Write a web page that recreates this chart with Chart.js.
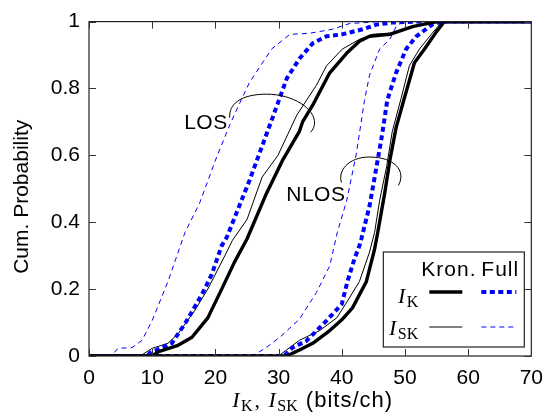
<!DOCTYPE html>
<html>
<head>
<meta charset="utf-8">
<script src="https://cdn.jsdelivr.net/npm/chart.js@4.4.1/dist/chart.umd.min.js"></script>
<style>
  html, body { margin: 0; padding: 0; background: #fff; }
  #wrap { width: 553px; height: 415px; }
</style>
</head>
<body>
<div id="wrap"><canvas id="cdf" width="553" height="415"></canvas></div>
<script>
// Empirical CDFs of mutual information, points as [bits/ch, probability]
const losKronIK = [[0,0],[10,0],[10.9,0.012],[14.1,0.032],[16.3,0.056],[18.8,0.114],[21,0.2],[23,0.28],[25,0.35],[28.1,0.487],[30.6,0.584],[33.3,0.672],[33.8,0.7],[35.4,0.75],[38.1,0.847],[40.8,0.906],[42.8,0.941],[44.4,0.956],[47.6,0.962],[51.2,0.985],[55,1],[70,1]];
const losKronISK = [[0,0],[8.1,0],[10,0.023],[12.5,0.038],[14.1,0.067],[16.7,0.135],[18.8,0.2],[21.5,0.3],[22.7,0.346],[25,0.408],[27.4,0.535],[29.9,0.6],[32.9,0.721],[36,0.81],[37.6,0.868],[40.1,0.918],[42.8,0.947],[44.9,0.962],[47.6,0.965],[51.2,0.985],[55,1],[70,1]];
const losFullIK = [[0,0],[9.3,0],[9.6,0.009],[13.1,0.038],[15.2,0.097],[17.9,0.185],[19.4,0.243],[21,0.33],[21.8,0.355],[25.4,0.525],[27.5,0.633],[29,0.71],[31.3,0.83],[33.3,0.889],[35.4,0.935],[37.6,0.956],[40.1,0.962],[43.3,0.977],[45.5,0.991],[48,0.997],[52,1],[70,1]];
const losFullISK = [[0,0],[3.5,0],[4.6,0.023],[6.8,0.025],[8.4,0.047],[10,0.106],[12.5,0.223],[15.2,0.37],[17.5,0.457],[20.2,0.595],[22.3,0.692],[23.5,0.742],[25.4,0.818],[28.9,0.918],[31.8,0.962],[34.9,0.965],[38.5,0.977],[41.2,0.994],[46,1],[70,1]];

const nlosKronIK = [[0,0],[31.3,0],[33.3,0.018],[35.4,0.038],[38.1,0.076],[40.1,0.11],[41.7,0.144],[43.9,0.223],[45.2,0.32],[45.7,0.37],[46.8,0.487],[47.6,0.584],[48.6,0.683],[49.9,0.771],[51.5,0.877],[53.1,0.918],[55,0.97],[56.2,1],[70,1]];
const nlosKronISK = [[0,0],[29.5,0],[30.2,0.003],[33.3,0.047],[36.5,0.076],[39.2,0.114],[40.9,0.164],[42.8,0.223],[44.4,0.311],[45.2,0.37],[46,0.466],[47.1,0.566],[48,0.672],[49.4,0.771],[50.7,0.868],[52.3,0.918],[54.3,0.965],[55.9,1],[70,1]];
const nlosFullIK = [[0,0],[30.5,0],[31,0.003],[32.2,0.025],[34.4,0.045],[37.6,0.106],[40,0.155],[40.9,0.223],[42,0.29],[42.8,0.33],[43.1,0.35],[44.4,0.449],[45.5,0.566],[46.4,0.663],[47.2,0.765],[48.6,0.847],[50.2,0.918],[51.8,0.956],[54.3,0.991],[55.9,1],[70,1]];
const nlosFullISK = [[0,0],[25.9,0],[28.1,0.026],[30.2,0.056],[33.3,0.11],[36,0.19],[38.1,0.27],[39.3,0.37],[40.8,0.466],[42.3,0.604],[43.6,0.765],[44.4,0.84],[46,0.918],[47.6,0.947],[48.6,0.985],[49.6,1],[70,1]];

// bracket labels: text anchor, then bezier path (start, c1, c2, mid, c1, c2, end), data units
const losLabel = {text: 'LOS', at: [18.5, 0.689],
  path: [[22.27,0.713],[22.12,0.751],[23.85,0.783],[28.1,0.783],[33.33,0.783],[37.28,0.716],[35.07,0.669]]};
const nlosLabel = {text: 'NLOS', at: [35.9, 0.475],
  path: [[39.97,0.519],[39.34,0.551],[40.92,0.595],[44.39,0.595],[48.34,0.595],[50.24,0.554],[48.97,0.51]]};

const SANS = '"Liberation Sans", Arial, sans-serif';
const SERIF = '"Liberation Serif", "DejaVu Serif", serif';

const styles = {
  kronIK:  {color: '#000', width: 3.4, dash: []},
  kronISK: {color: '#000', width: 1, dash: []},
  fullIK:  {color: '#0000ff', width: 4, dash: [5, 3.5]},
  fullISK: {color: '#0000ff', width: 1, dash: [5, 4]}
};

function curve(pts, st) {
  return {
    data: pts.map(p => ({x: p[0], y: p[1]})),
    borderColor: st.color,
    borderWidth: st.width,
    borderDash: st.dash,
    borderCapStyle: 'butt',
    borderJoinStyle: 'round',
    pointRadius: 0,
    tension: 0,
    fill: false
  };
}

// draws I with an upright subscript, returns the width
function mathI(ctx, sub, x, base, align) {
  ctx.font = 'italic 22px ' + SERIF;
  const wI = ctx.measureText('I').width;
  ctx.font = '16px ' + SERIF;
  const wS = ctx.measureText(sub).width;
  const total = wI + 1.5 + wS;
  const x0 = align === 'right' ? x - total : x;
  ctx.textAlign = 'left';
  ctx.textBaseline = 'alphabetic';
  ctx.font = 'italic 22px ' + SERIF;
  ctx.fillText('I', x0, base);
  ctx.font = '16px ' + SERIF;
  ctx.fillText(sub, x0 + wI + 1.5, base + 4);
  return total;
}

const decor = {
  id: 'decor',
  afterDatasetsDraw(chart) {
    const {ctx, chartArea: a, scales: {x, y}} = chart;
    ctx.save();

    // frame and inward ticks on all four sides
    ctx.strokeStyle = '#222';
    ctx.lineWidth = 1.2;
    ctx.strokeRect(a.left, a.top, a.right - a.left, a.bottom - a.top);
    ctx.lineWidth = 1;
    ctx.strokeStyle = '#333';
    const tl = 7;
    ctx.beginPath();
    x.ticks.forEach(t => {
      const px = Math.round(x.getPixelForValue(t.value)) + 0.5;
      ctx.moveTo(px, a.bottom); ctx.lineTo(px, a.bottom - tl);
      ctx.moveTo(px, a.top); ctx.lineTo(px, a.top + tl);
    });
    y.ticks.forEach(t => {
      const py = Math.round(y.getPixelForValue(t.value)) + 0.5;
      ctx.moveTo(a.left, py); ctx.lineTo(a.left + tl, py);
      ctx.moveTo(a.right, py); ctx.lineTo(a.right - tl, py);
    });
    ctx.stroke();

    // LOS / NLOS brackets
    const P = p => [x.getPixelForValue(p[0]), y.getPixelForValue(p[1])];
    [losLabel, nlosLabel].forEach(lb => {
      const q = lb.path.map(P);
      ctx.strokeStyle = '#000';
      ctx.lineWidth = 1;
      ctx.beginPath();
      ctx.moveTo(q[0][0], q[0][1]);
      ctx.bezierCurveTo(q[1][0], q[1][1], q[2][0], q[2][1], q[3][0], q[3][1]);
      ctx.bezierCurveTo(q[4][0], q[4][1], q[5][0], q[5][1], q[6][0], q[6][1]);
      ctx.stroke();
      const c = P(lb.at);
      ctx.fillStyle = '#000';
      ctx.font = '21px ' + SANS;
      ctx.letterSpacing = '0.5px';
      ctx.textAlign = 'center';
      ctx.textBaseline = 'middle';
      ctx.fillText(lb.text, c[0], c[1] - 2);
      ctx.letterSpacing = '0px';
    });

    // legend table
    const L = a.right - 148, T = a.bottom - 104;
    ctx.fillStyle = '#fff';
    ctx.fillRect(L, T, 141, 95);
    ctx.strokeStyle = '#222';
    ctx.lineWidth = 1.2;
    ctx.strokeRect(L, T, 141, 95);
    ctx.fillStyle = '#000';
    ctx.font = '21px ' + SANS;
    ctx.letterSpacing = '1px';
    ctx.textBaseline = 'alphabetic';
    ctx.textAlign = 'left';
    ctx.fillText('Kron.', L + 38, T + 24);
    ctx.fillText('Full', L + 98, T + 24);
    ctx.letterSpacing = '0px';
    mathI(ctx, 'K', L + 35, T + 51, 'right');
    mathI(ctx, 'SK', L + 35, T + 83, 'right');
    const seg = (st, x0, x1, yy) => {
      ctx.strokeStyle = st.color;
      ctx.lineWidth = st.width;
      ctx.setLineDash(st.dash);
      ctx.beginPath(); ctx.moveTo(x0, yy); ctx.lineTo(x1, yy); ctx.stroke();
    };
    seg(styles.kronIK, L + 46, L + 79, T + 40);
    seg(styles.fullIK, L + 98, L + 133, T + 40);
    seg(styles.kronISK, L + 46, L + 79, T + 75);
    seg(styles.fullISK, L + 98, L + 133, T + 75);
    ctx.setLineDash([]);

    // axis titles
    ctx.fillStyle = '#000';
    ctx.save();
    ctx.translate(22, (a.top + a.bottom) / 2 + 8);
    ctx.rotate(-Math.PI / 2);
    ctx.font = '21px ' + SANS;
    ctx.textAlign = 'center';
    ctx.textBaseline = 'middle';
    ctx.fillText('Cum. Probability', 0, 0);
    ctx.restore();

    const base = 407;
    let cx = (a.left + a.right) / 2 - 78;
    cx += mathI(ctx, 'K', cx, base, 'left');
    ctx.font = '22px ' + SERIF;
    ctx.textAlign = 'left';
    ctx.fillText(',', cx + 2, base);
    cx += 16;
    cx += mathI(ctx, 'SK', cx, base, 'left');
    ctx.font = '22px ' + SANS;
    ctx.letterSpacing = '1px';
    ctx.fillText('(bits/ch)', cx + 8, base);
    ctx.letterSpacing = '0px';

    ctx.restore();
  }
};

new Chart(document.getElementById('cdf'), {
  type: 'line',
  data: {
    datasets: [
      curve(losKronIK, styles.kronIK),
      curve(losFullIK, styles.fullIK),
      curve(losKronISK, styles.kronISK),
      curve(losFullISK, styles.fullISK),
      curve(nlosKronIK, styles.kronIK),
      curve(nlosFullIK, styles.fullIK),
      curve(nlosKronISK, styles.kronISK),
      curve(nlosFullISK, styles.fullISK)
    ]
  },
  options: {
    responsive: false,
    animation: false,
    devicePixelRatio: 1,
    layout: {padding: {top: 15, right: 21, left: 0, bottom: 0}},
    plugins: {legend: {display: false}, tooltip: {enabled: false}},
    scales: {
      x: {
        type: 'linear', min: 0, max: 70,
        grid: {display: false, drawTicks: false},
        border: {display: false},
        ticks: {stepSize: 10, color: '#000', padding: 10, font: {family: SANS, size: 21}},
        afterFit: s => { s.height = 59; }
      },
      y: {
        type: 'linear', min: 0, max: 1,
        grid: {display: false, drawTicks: false},
        border: {display: false},
        ticks: {stepSize: 0.2, color: '#000', padding: 9, font: {family: SANS, size: 21},
          callback: v => String(Math.round(v * 10) / 10)},
        afterFit: s => { s.width = 89; }
      }
    }
  },
  plugins: [decor]
});
</script>
</body>
</html>
